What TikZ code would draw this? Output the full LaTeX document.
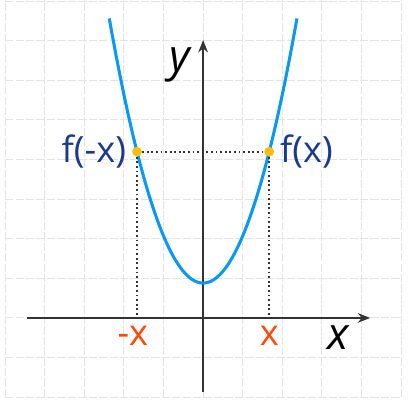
\documentclass[tikz,border=0pt]{standalone}
\usepackage{fontspec}
\setmainfont{Open Sans}
\usepackage{tikz}
\usetikzlibrary{arrows.meta, positioning, calc}
\definecolor{curveblue}{HTML}{0A98F5}
\definecolor{labelblue}{HTML}{1B3A8C}
\definecolor{markorange}{HTML}{FF4A0A}
\definecolor{dotyellow}{HTML}{F7BE0A}
\definecolor{gridgray}{HTML}{E4E4E4}
\definecolor{axisgray}{HTML}{333333}
\newcommand{\pa}{1.19}
\newcommand{\pc}{0.88}

\begin{document}
\begin{tikzpicture}[
    gridline/.style={gridgray, line width=0.7pt, dash pattern=on 6pt off 1.5pt},
    axisline/.style={axisgray, line width=1pt, -{Stealth[length=9pt, width=7pt]}},
    guide/.style={black!80, line width=1.3pt, dotted},
    flabel/.style={text=labelblue, font=\fontsize{26}{30}\selectfont, inner sep=1pt},
    xlabel/.style={text=markorange, font=\fontsize{26}{30}\selectfont, inner sep=1pt},
    axlabel/.style={font=\fontsize{32}{36}\selectfont\itshape, inner sep=1pt},
    pointdot/.style={circle, fill=dotyellow, inner sep=0pt, minimum size=7pt}
  ]
  \useasboundingbox (-5.13,-2.15) rectangle (5.2,8.03);
  % Grid
  \foreach \i in {-5,...,5} \draw[gridline] (\i,-2) -- (\i,8.03);
  \foreach \j in {-2,...,8} \draw[gridline] (-5,\j) -- (5,\j);
  % Axes
  \coordinate (xstart) at (-4.44,0);
  \coordinate (xend) at (4.22,0);
  \coordinate (ystart) at (0,-1.87);
  \coordinate (yend) at (0,7.02);
  \draw[axisline] (xstart) -- (xend);
  \draw[axisline] (ystart) -- (yend);
  \node[axlabel] (ylab) at (-0.58,6.4) {y};
  \node[axlabel] (xlab) at (3.4,-0.5) {x};
  % Curve
  \draw[curveblue, line width=2.2pt, domain=-2.37:2.37, samples=80]
    plot (\x, {\pa*\x*\x + \pc});
  % Points
  \coordinate (footL) at (-1.67,0);
  \coordinate (footR) at (1.67,0);
  \node[pointdot] (pL) at ($(footL)+(0,{\pa*1.67*1.67+\pc})$) {};
  \node[pointdot] (pR) at ($(footR)+(0,{\pa*1.67*1.67+\pc})$) {};
  \draw[guide] (pL) -- (pR);
  \draw[guide] (pL) -- (footL);
  \draw[guide] (pR) -- (footR);
  % Labels
  \node[flabel, left=3pt of pL] (fl) {f(-x)};
  \node[flabel, right=3pt of pR] (fr) {f(x)};
  \node[xlabel, below=5pt of footL, xshift=-3pt] (xl) {-x};
  \node[xlabel, below=5pt of footR] (xr) {x};
\end{tikzpicture}
\end{document}
